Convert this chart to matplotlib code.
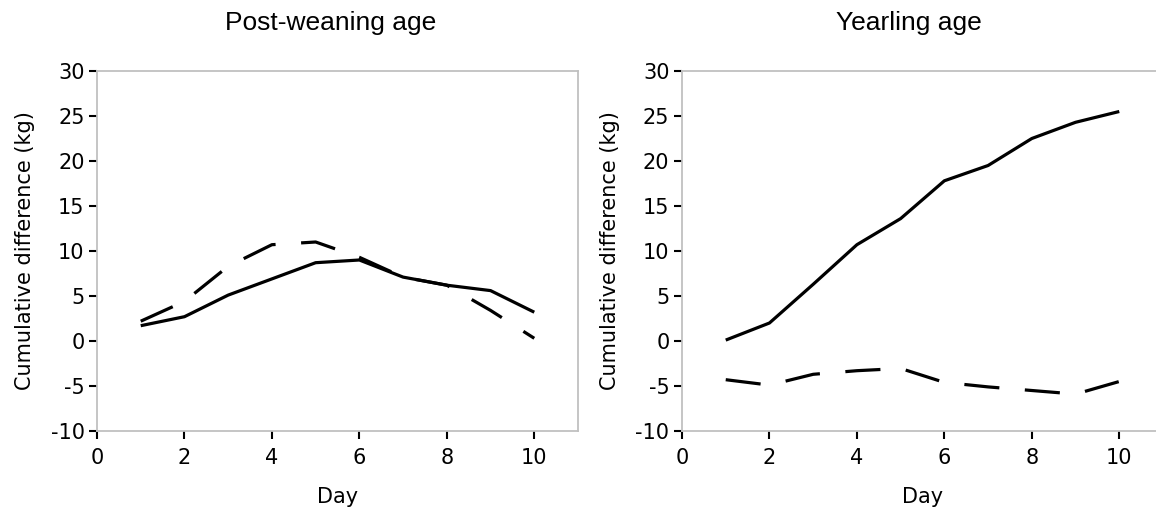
import matplotlib
matplotlib.use("Agg")
import matplotlib.pyplot as plt

plt.rcParams['font.family'] = ['DejaVu Sans']
plt.rcParams['axes.unicode_minus'] = False

days = [1, 2, 3, 4, 5, 6, 7, 8, 9, 10]

# Post-weaning age
pw_solid = [1.7, 2.7, 5.1, 6.9, 8.7, 9.0, 7.1, 6.2, 5.6, 3.2]
pw_dashed = [2.2, 4.4, 8.3, 10.7, 11.0, 9.3, 7.1, 6.2, 3.4, 0.3]

# Yearling age
yr_solid = [0.1, 2.0, 6.3, 10.7, 13.6, 17.8, 19.5, 22.5, 24.3, 25.5]
yr_dashed = [-4.3, -4.9, -3.7, -3.3, -3.05, -4.6, -5.1, -5.5, -5.9, -4.5]

titles = ["Post-weaning age", "Yearling age"]
yticks = [-10, -5, 0, 5, 10, 15, 20, 25, 30]
xticks = [0, 2, 4, 6, 8, 10]

W, H = 1156, 514
fig = plt.figure(figsize=(W / 100, H / 100), dpi=100)

panels = [
    (97, pw_solid, pw_dashed, 331),
    (682, yr_solid, yr_dashed, 909),
]

for i, (left_px, solid, dashed, title_x) in enumerate(panels):
    ax = fig.add_axes([left_px / W, 1 - 431 / H, 481 / W, 360 / H])
    ax.plot(days, solid, color='black', lw=2.3, solid_capstyle='butt')
    ax.plot(days, dashed, color='black', lw=2.3, linestyle=(0, (11, 8)),
            dash_capstyle='butt')
    ax.set_xlim(0, 11)
    ax.set_ylim(-10, 30)
    ax.set_xticks(xticks)
    ax.set_yticks(yticks)
    for s in ax.spines.values():
        s.set_color('#c0c0c0')
        s.set_linewidth(1.3)
    ax.tick_params(direction='out', length=6, width=1.5, color='black',
                   labelsize=15, pad=3)
    ax.tick_params(axis='x', pad=6)
    ax.set_xlabel("Day", fontsize=15, labelpad=14)
    ax.set_ylabel("Cumulative difference (kg)", fontsize=15, labelpad=11)
    fig.text(title_x / W, 1 - 30 / H, titles[i], ha='center', va='baseline',
             fontsize=19, family=['Liberation Sans', 'DejaVu Sans'])

fig.savefig("out.png", dpi=100)
